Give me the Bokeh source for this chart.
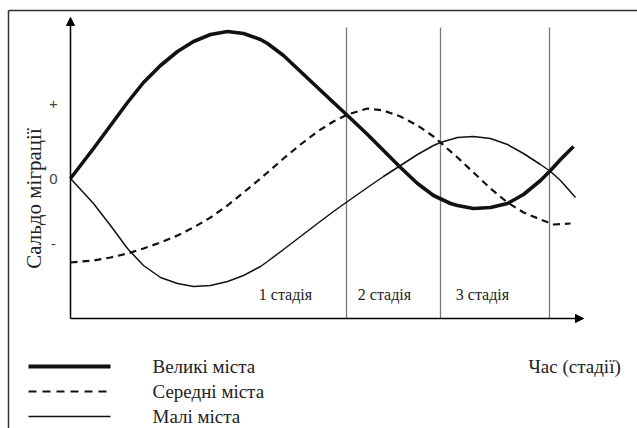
from bokeh.plotting import figure
from bokeh.models import Range1d, Arrow, NormalHead
from bokeh.core.properties import value
from bokeh.embed import file_html
from bokeh.resources import INLINE
import math

# ---- data (time in conventional units from origin, migration balance: 0 = zero level) ----
big_t = [0, 23, 40, 57, 73, 90, 107, 123, 140, 157, 173, 190, 197, 213, 230, 247, 263,
         277, 297, 313, 330, 347, 363, 380, 387, 403, 420, 437, 453, 470, 480, 490, 503]
big_v = [0, 30, 53, 76, 96, 113, 127, 137, 144, 147, 145, 139, 135, 123, 107, 91, 76,
         63, 44, 28, 11, -5, -17, -25, -27, -30, -29, -25, -16, -2, 8, 19, 32]

mid_t = [0, 23, 40, 57, 73, 90, 107, 123, 140, 157, 173, 190, 197, 213, 230, 247, 263,
         277, 297, 313, 330, 347, 363, 370, 387, 403, 420, 437, 453, 470, 483, 500]
mid_v = [-84, -82, -79, -75, -70, -64, -57, -49, -39, -27, -14, 0, 6, 20, 34, 47, 57,
         64, 70, 68, 62, 53, 42, 36, 21, 6, -10, -24, -34, -41, -46, -45]

small_t = [0, 23, 40, 57, 73, 90, 107, 123, 140, 157, 173, 190, 197, 213, 230, 247, 263,
           277, 297, 313, 330, 347, 363, 370, 387, 403, 420, 437, 453, 470, 480, 490, 505]
small_v = [0, -25, -47, -70, -87, -99, -105, -108, -107, -103, -97, -88, -83, -71, -58, -45, -33,
           -23, -9, 2, 13, 24, 33, 36, 41, 42, 40, 34, 25, 14, 7, -2, -19]

stage_bounds = [276, 370, 479]
stage_labels = ["1 стадія", "2  стадія", "3 стадія"]
stage_label_t = [215, 316, 412]

y_ticks = [75, 0, -65]
y_tick_labels = ["+", "0", "-"]

series_names = ["Великі міста", "Середні міста", "Малі міста"]
y_title = "Сальдо міграції"
x_title = "Час (стадії)"

# ---- layout (data units == pixels) ----
X0, X1 = -70, 567
Y0, Y1 = -250, 178
AXIS_Y = -140
Y_TOP = 161
X_TIP = 513
VL_TOP = 151

W, H = 637, 428
p = figure(width=W, height=H, x_range=Range1d(X0, X1), y_range=Range1d(Y0, Y1),
           output_backend="svg", toolbar_location=None,
           x_axis_type=None, y_axis_type=None, min_border=0)
p.grid.visible = False
p.outline_line_color = None
p.background_fill_color = "white"
p.border_fill_color = "white"

SERIF = value("Liberation Serif")
INK = "#111111"

# frame (top + left border)
p.line(x=[-62, -62], y=[168, Y0], line_color="#333333", line_width=1.5)
p.line(x=[-62, X1], y=[168, 168], line_color="#333333", line_width=1.5)

# stage separators
for b in stage_bounds:
    p.line(x=[b, b], y=[AXIS_Y, VL_TOP], line_color="#7a7a7a", line_width=1.3)

# axes with arrows
p.add_layout(Arrow(x_start=0, y_start=AXIS_Y, x_end=0, y_end=Y_TOP,
                   line_color="black", line_width=1.5,
                   end=NormalHead(size=8, fill_color="black", line_color="black")))
p.add_layout(Arrow(x_start=0, y_start=AXIS_Y, x_end=X_TIP, y_end=AXIS_Y,
                   line_color="black", line_width=1.5,
                   end=NormalHead(size=8, fill_color="black", line_color="black")))

# curves
p.line(x=mid_t, y=mid_v, line_color=INK, line_width=2.2, line_dash="7 5", line_join="round")
p.line(x=small_t, y=small_v, line_color=INK, line_width=1.5, line_join="round")
p.line(x=big_t, y=big_v, line_color=INK, line_width=3.6, line_join="round")

# tick labels
p.text(x=[-17] * 3, y=y_ticks, text=y_tick_labels, text_font=value("Liberation Sans"),
       text_font_size="15px", text_color="#444444", text_align="center", text_baseline="middle")

# stage labels
p.text(x=stage_label_t, y=[-116] * 3, text=stage_labels, text_font=SERIF,
       text_font_size="16px", text_color="#222222", text_align="center", text_baseline="middle")

# y title
p.text(x=[-37], y=[-20], text=[y_title], angle=math.pi / 2, text_font=SERIF,
       text_font_size="21px", text_color="#222222", text_align="center", text_baseline="middle")

# legend
rows = [-188, -213, -238]
p.line(x=[-42, 40], y=[rows[0], rows[0]], line_color=INK, line_width=4)
p.line(x=[-42, 40], y=[rows[1], rows[1]], line_color=INK, line_width=2, line_dash="8 6")
p.line(x=[-42, 40], y=[rows[2], rows[2]], line_color=INK, line_width=1.5)
p.text(x=[82] * 3, y=rows, text=series_names, text_font=SERIF, text_font_size="19px",
       text_color="#222222", text_align="left", text_baseline="middle")
p.text(x=[458], y=[rows[0]], text=[x_title], text_font=SERIF, text_font_size="19px",
       text_color="#222222", text_align="left", text_baseline="middle")

open("out.html", "w").write(file_html(p, INLINE))
